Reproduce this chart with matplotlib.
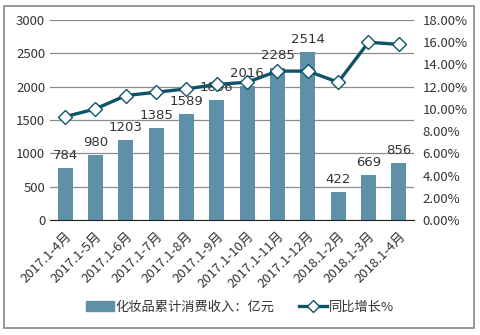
import matplotlib
matplotlib.use('Agg')
import matplotlib.pyplot as plt
import matplotlib.patches as mpatches
import numpy as np

plt.rcParams['font.family'] = ['Noto Sans CJK SC', 'DejaVu Sans']

# Monthly cumulative cosmetics retail revenue and YoY growth
months = ['2017.1-4月', '2017.1-5月', '2017.1-6月', '2017.1-7月', '2017.1-8月', '2017.1-9月',
          '2017.1-10月', '2017.1-11月', '2017.1-12月', '2018.1-2月', '2018.1-3月', '2018.1-4月']
revenue = [784, 980, 1203, 1385, 1589, 1806, 2016, 2285, 2514, 422, 669, 856]
growth = [9.3, 10.0, 11.2, 11.5, 11.8, 12.2, 12.4, 13.4, 13.4, 12.4, 16.0, 15.8]

bar_color = '#5E91A8'
line_color = '#0E5468'
text_color = '#333333'

fig = plt.figure(figsize=(4.8, 3.35), dpi=100)
fig.patches.append(mpatches.Rectangle((4 / 480, 1 - 328 / 335), 470 / 480, 322 / 335,
                                      transform=fig.transFigure, fill=False,
                                      edgecolor='#888888', linewidth=1.2))

ax = fig.add_axes([50 / 480, 1 - 220 / 335, 364 / 480, 200 / 335])
x = np.arange(len(months))
ax.bar(x, revenue, width=0.5, color=bar_color, zorder=2)
for xi, v in zip(x, revenue):
    ax.text(xi, v + 90, str(v), ha='center', va='bottom', fontsize=9.5,
            color=text_color, family='DejaVu Sans', zorder=3)

ax.set_ylim(0, 3000)
ax.set_yticks(range(0, 3001, 500))
ax.set_xlim(-0.5, len(months) - 0.5)
ax.set_xticks(x)
ax.set_xticklabels(months, rotation=45, ha='right', rotation_mode='anchor', fontsize=8.5,
                   color=text_color)
ax.yaxis.grid(True, color='#8C8C8C', linewidth=0.9, zorder=0)
ax.set_axisbelow(True)
for s in ['left', 'right', 'top']:
    ax.spines[s].set_visible(False)
ax.spines['bottom'].set_color('#222222')
ax.tick_params(length=0, labelsize=9.5, colors=text_color)
ax.tick_params(axis='x', pad=7)

ax2 = ax.twinx()
ax2.plot(x, growth, color=line_color, linewidth=2.4, marker='D', markersize=7,
         markerfacecolor='white', markeredgecolor=line_color, markeredgewidth=1, zorder=4)
ax2.set_ylim(0, 18)
ax2.set_yticks(range(0, 19, 2))
ax2.set_yticklabels(['%.2f%%' % t for t in range(0, 19, 2)])
for s in ['left', 'right', 'top', 'bottom']:
    ax2.spines[s].set_visible(False)
ax2.tick_params(length=0, labelsize=9.5, colors=text_color, pad=6)

handles = [mpatches.Patch(color=bar_color),
           plt.Line2D([], [], color=line_color, linewidth=2.4, marker='D', markersize=6,
                      markerfacecolor='white', markeredgecolor=line_color)]
fig.legend(handles, ['化妆品累计消费收入：亿元', '同比增长%'], loc='center',
           bbox_to_anchor=(240 / 480, 1 - 307 / 335), ncol=2, frameon=False, fontsize=9.5,
           handlelength=2.1, columnspacing=1.9, handletextpad=0.1, labelcolor=text_color)

fig.savefig('out.png', dpi=100)
